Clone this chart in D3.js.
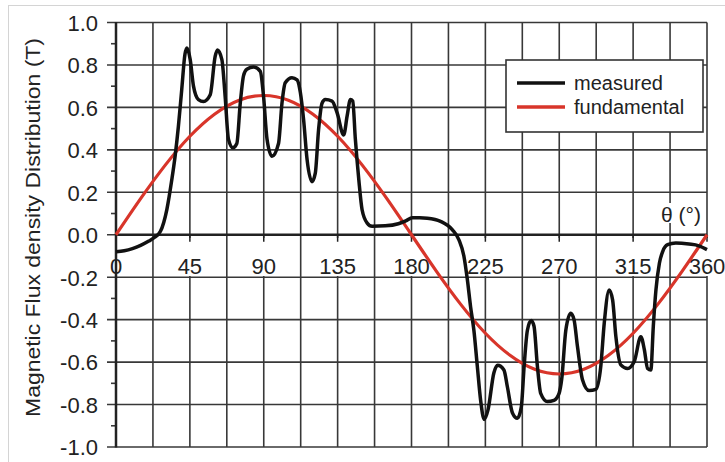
<!DOCTYPE html>
<html><head><meta charset="utf-8">
<script src="https://cdn.jsdelivr.net/npm/d3@7/dist/d3.min.js"></script>
<style>
html,body{margin:0;padding:0;background:#fff;}
svg{display:block;font-family:"Liberation Sans",Arial,Helvetica,sans-serif;}
</style></head>
<body>
<svg id="chart" width="725" height="462"></svg>
<script>
// ---- data ----
const measuredTheta = [0,5,10,15,20,23,27,31,34,36,38,40,42,43.2,45.2,47.2,50.2,53.3,57.4,60.4,61.8,64.5,66.5,68.5,71.2,73.6,75.7,77.7,79.7,83.8,87.9,89.9,92,95,99,101.1,103.1,107.2,110.3,112.3,114.3,116.4,119.4,121.4,123.4,125.5,127.5,131.6,134.7,138.7,140.8,142.8,144.2,145.8,147.9,149.9,153,156,164,172,176.5,180.5,185,189.6,197.7,204.8,208.9,211.9,214,216,218,220.1,222.1,224.3,226.6,230.2,232.5,236.3,238.4,241.5,244.5,246.9,248.6,250.6,252.9,254.6,256.7,258.7,262.8,266.8,269.9,271.5,274,277,279,281.1,284.2,288.2,292.3,295.3,297.4,300.4,302.5,304.5,307.5,311.6,315.7,319.7,321.8,323.8,325.8,327.3,328.9,331,333,336,341,349,355,360];
const measuredB = [-0.08,-0.075,-0.065,-0.05,-0.03,-0.015,0.015,0.12,0.26,0.37,0.51,0.68,0.85,0.88,0.825,0.70,0.637,0.628,0.66,0.84,0.87,0.825,0.65,0.45,0.41,0.43,0.62,0.75,0.78,0.79,0.77,0.65,0.45,0.37,0.43,0.62,0.716,0.74,0.73,0.67,0.54,0.354,0.25,0.29,0.495,0.62,0.637,0.63,0.574,0.47,0.56,0.637,0.63,0.45,0.26,0.118,0.055,0.04,0.042,0.052,0.065,0.08,0.08,0.078,0.063,0.024,-0.024,-0.10,-0.21,-0.34,-0.45,-0.62,-0.78,-0.87,-0.825,-0.65,-0.615,-0.637,-0.716,-0.84,-0.865,-0.81,-0.62,-0.45,-0.404,-0.43,-0.62,-0.747,-0.786,-0.78,-0.747,-0.68,-0.45,-0.37,-0.40,-0.527,-0.684,-0.734,-0.728,-0.62,-0.417,-0.26,-0.307,-0.48,-0.613,-0.63,-0.597,-0.48,-0.54,-0.63,-0.637,-0.43,-0.26,-0.134,-0.079,-0.047,-0.039,-0.044,-0.052,-0.07];
const fundamentalTheta = [0,15,30,45,60,75,90,105,120,135,150,165,180,195,210,225,240,255,270,285,300,315,330,345,360];
const fundamentalB = [0,0.17,0.328,0.464,0.568,0.634,0.656,0.634,0.568,0.464,0.328,0.17,0,-0.17,-0.328,-0.464,-0.568,-0.634,-0.656,-0.634,-0.568,-0.464,-0.328,-0.17,0];
const xTickValues = [0,45,90,135,180,225,270,315,360];
const xTickLabels = ["0","45","90","135","180","225","270","315","360"];
const yTickValues = [-1,-0.8,-0.6,-0.4,-0.2,0,0.2,0.4,0.6,0.8,1];
const yTickLabels = ["-1.0","-0.8","-0.6","-0.4","-0.2","0.0","0.2","0.4","0.6","0.8","1.0"];
const seriesNames = ["measured","fundamental"];
const seriesColors = ["#111111","#d8352a"];

// ---- layout ----
const svg = d3.select("#chart");
const x = d3.scaleLinear().domain([0,360]).range([116,707]);
const y = d3.scaleLinear().domain([-1,1]).range([447,22.5]);
const gridColor = "#383838";

// outer frame
svg.append("rect").attr("x",8.5).attr("y",5.5).attr("width",800).attr("height",500)
  .attr("fill","#fff").attr("stroke","#d4d4d4").attr("stroke-width",1);

// vertical grid every 22.5
const vGrid = d3.range(0,360.01,22.5);
svg.append("g").selectAll("line").data(vGrid).join("line")
  .attr("x1",d=>x(d)).attr("x2",d=>x(d)).attr("y1",y(1)).attr("y2",y(-1))
  .attr("stroke",gridColor).attr("stroke-width",1.6);
// horizontal grid (extends left as major tick)
svg.append("g").selectAll("line").data(yTickValues).join("line")
  .attr("x1",x(0)-9).attr("x2",x(360)).attr("y1",d=>y(d)).attr("y2",d=>y(d))
  .attr("stroke",gridColor).attr("stroke-width",1.6);
// minor y ticks
const yMinor = d3.range(-0.9,0.95,0.2);
svg.append("g").selectAll("line").data(yMinor).join("line")
  .attr("x1",x(0)-5).attr("x2",x(0)).attr("y1",d=>y(d)).attr("y2",d=>y(d))
  .attr("stroke",gridColor).attr("stroke-width",1.6);

// x tick labels with white boxes
const xl = svg.append("g");
xTickValues.forEach((v,i)=>{
  const t = xl.append("text").attr("x",x(v)).attr("y",274).attr("text-anchor","middle")
    .attr("font-size",22).attr("fill","#222").text(xTickLabels[i]);
  const bb = t.node().getBBox();
  xl.insert("rect","text").attr("x",bb.x-1).attr("y",238).attr("width",bb.width+2).attr("height",38).attr("fill","#fff");
});
// theta label
{
  const g = svg.append("g");
  const t = g.append("text").attr("x",701).attr("y",222).attr("text-anchor","end")
    .attr("font-size",21).attr("fill","#222").text("θ (°)");
  const bb = t.node().getBBox();
  g.insert("rect","text").attr("x",bb.x-1).attr("y",bb.y).attr("width",bb.width+2).attr("height",bb.height-3).attr("fill","#fff");
}

// axis lines
svg.append("line").attr("x1",x(0)).attr("x2",x(360)).attr("y1",y(0)).attr("y2",y(0))
  .attr("stroke","#222").attr("stroke-width",2.5);
svg.append("line").attr("x1",x(0)).attr("x2",x(0)).attr("y1",y(1)-0.5).attr("y2",y(-1)+0.5)
  .attr("stroke","#222").attr("stroke-width",2.5);
// x ticks at labels
svg.append("g").selectAll("line").data(xTickValues).join("line")
  .attr("x1",d=>x(d)).attr("x2",d=>x(d)).attr("y1",y(0)).attr("y2",y(0)+7)
  .attr("stroke","#222").attr("stroke-width",1.5);

// curves
const line = d3.line().x(d=>x(d[0])).y(d=>y(d[1]));
svg.append("path").datum(fundamentalTheta.map((t,i)=>[t,fundamentalB[i]]))
  .attr("d",line.curve(d3.curveNatural)).attr("fill","none")
  .attr("stroke",seriesColors[1]).attr("stroke-width",3.2);
svg.append("path").datum(measuredTheta.map((t,i)=>[t,measuredB[i]]))
  .attr("d",line.curve(d3.curveMonotoneX)).attr("fill","none")
  .attr("stroke",seriesColors[0]).attr("stroke-width",3.5).attr("stroke-linejoin","round");

// legend
const lg = svg.append("g");
lg.append("rect").attr("x",506).attr("y",60).attr("width",197).attr("height",72)
  .attr("fill","#fff").attr("stroke","#333").attr("stroke-width",1.6);
seriesNames.forEach((n,i)=>{
  const yy = 83 + i*24;
  lg.append("line").attr("x1",517).attr("x2",565).attr("y1",yy).attr("y2",yy)
    .attr("stroke",seriesColors[i]).attr("stroke-width",3.5);
  lg.append("text").attr("x",574).attr("y",yy+7).attr("font-size",20).attr("fill","#222").text(n);
});

// y tick labels
svg.append("g").selectAll("text").data(yTickValues).join("text")
  .attr("x",98).attr("y",d=>y(d)).attr("dy","0.38em").attr("text-anchor","end")
  .attr("font-size",22).attr("fill","#222").text((d,i)=>yTickLabels[i]);

// y title
svg.append("text").attr("transform","translate(40,227.5) rotate(-90)")
  .attr("text-anchor","middle").attr("font-size",21).attr("fill","#222")
  .attr("textLength",379).attr("lengthAdjust","spacingAndGlyphs")
  .text("Magnetic Flux density Distribution (T)");
</script>
</body></html>
